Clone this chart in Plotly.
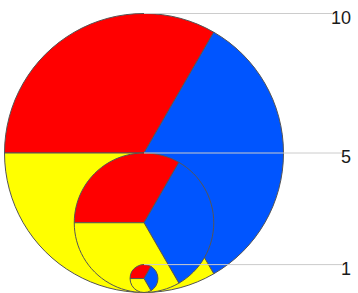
import plotly.graph_objects as go

W, H = 358, 293

# Data
sizes = [10, 5, 1]
size_labels = ["10", "5", "1"]
categories = ["Red", "Blue", "Yellow"]
shares_10 = [1, 1, 1]
shares_5 = [1, 1, 1]
shares_1 = [1, 1, 1]
colors = ["#ff0000", "#0055ff", "#ffff00"]

# Layout constants (pixels)
px_per_unit = 13.95      # radius in px per value unit
cx = 144                 # common centre x
bottom = 292.5           # common bottom of circles (px from top)
label_right = 353
char_w = 10

fig = go.Figure()
for v, shares in zip(sizes, [shares_10, shares_5, shares_1]):
    r = v * px_per_unit
    x0 = (cx - r) / W
    x1 = (cx + r) / W
    y0 = (H - bottom) / H
    y1 = (H - bottom + 2 * r) / H
    fig.add_trace(go.Pie(
        values=shares, labels=categories, sort=False,
        direction="clockwise", rotation=-90,
        marker=dict(colors=colors, line=dict(color="#555555", width=1)),
        textinfo="none", hoverinfo="label+value",
        domain=dict(x=[x0, x1], y=[y0, y1]), showlegend=False,
    ))

# invisible cartesian trace so the value axis exists
fig.add_trace(go.Scatter(x=[], y=[], showlegend=False, hoverinfo="skip"))

ymin = -(H - bottom) / (2 * px_per_unit)
ymax = bottom / (2 * px_per_unit)

shapes = []
annotations = []
for v, lab in zip(sizes, size_labels):
    x_end = label_right - len(lab) * char_w - 1
    shapes.append(dict(type="line", xref="x", yref="y", x0=cx, x1=x_end, y0=v, y1=v,
                       line=dict(color="#cccccc", width=1), layer="above"))
    annotations.append(dict(x=label_right, y=v, xref="x", yref="y", text=lab,
                            showarrow=False, xanchor="right", yanchor="middle",
                            yshift=-4, font=dict(size=18, color="#1a1a1a",
                                                  family="Liberation Sans, Arial, sans-serif")))

fig.update_layout(
    width=W, height=H,
    margin=dict(l=0, r=0, t=0, b=0),
    paper_bgcolor="white", plot_bgcolor="rgba(0,0,0,0)",
    xaxis=dict(range=[0, W], visible=False, fixedrange=True),
    yaxis=dict(range=[ymin, ymax], visible=False, fixedrange=True),
    shapes=shapes, annotations=annotations,
    showlegend=False,
)

fig.write_html("out.html", config={"displayModeBar": False},
               post_script="document.body.style.margin='0';document.body.style.overflow='hidden';")
